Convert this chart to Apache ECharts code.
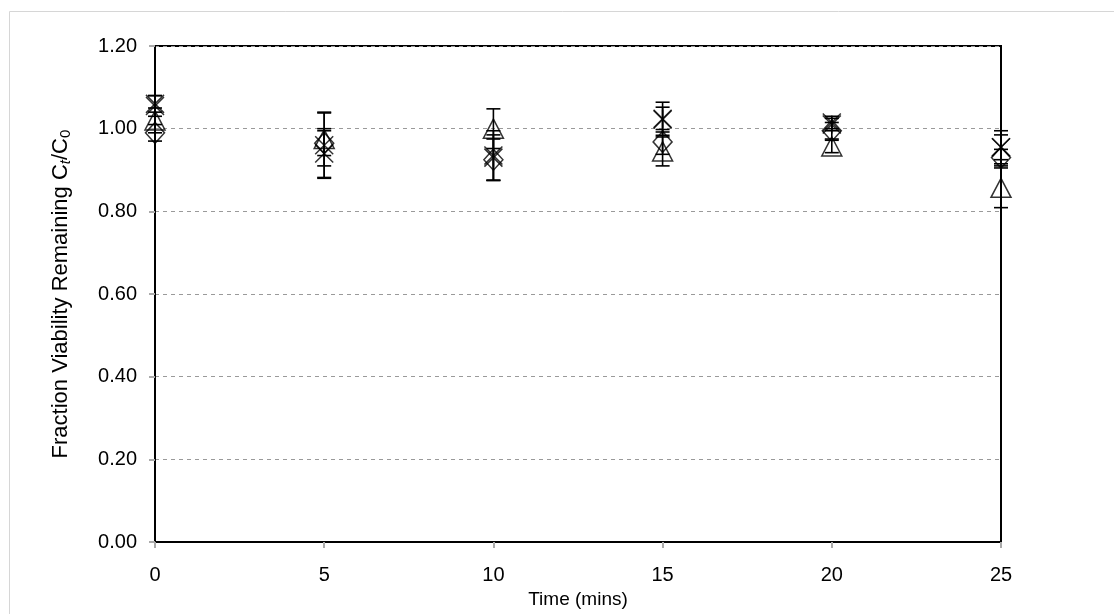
<!DOCTYPE html>
<html>
<head>
<meta charset="utf-8">
<script src="https://cdn.jsdelivr.net/npm/echarts@6/dist/echarts.min.js"></script>
<style>
  html, body { margin: 0; padding: 0; background: #fff; }
  #chart { width: 1114px; height: 614px; }
</style>
</head>
<body>
<div id="chart"></div>
<script>
// Sampling times (minutes)
const times = [0, 5, 10, 15, 20, 25];
const yTicks = [0, 0.2, 0.4, 0.6, 0.8, 1.0, 1.2];

// Fraction of viability remaining, Ct/C0, with +/- error
const diamondVals = [0.99, 0.965, 0.925, 0.968, 0.995, 0.93];
const diamondErr  = [0.02, 0.03, 0.05, 0.03, 0.02, 0.02];
const triangleVals = [1.02, 0.975, 1.0, 0.945, 0.957, 0.857];
const triangleErr  = [0.03, 0.065, 0.048, 0.035, 0.015, 0.048];
const crossVals = [1.055, 0.94, 0.935, 1.022, 1.015, 0.955];
const crossErr  = [0.025, 0.06, 0.06, 0.03, 0.015, 0.03];
const starVals = [1.06, 0.96, 0.93, 1.024, 1.01, 0.955];
const starErr  = [0.02, 0.078, 0.055, 0.04, 0.015, 0.04];

const INK = '#000';
const clear = 'rgba(0,0,0,0)';

function pts(vals) { return times.map((t, i) => [t, vals[i]]); }
function errData(vals, err) { return times.map((t, i) => [t, vals[i] - err[i], vals[i] + err[i]]); }

function errorSeries(vals, err) {
  return {
    type: 'custom',
    data: errData(vals, err),
    z: 1,
    silent: true,
    renderItem: function (params, api) {
      const x = api.value(0);
      const lo = api.coord([x, api.value(1)]);
      const hi = api.coord([x, api.value(2)]);
      const w = 7;
      const st = { stroke: INK, lineWidth: 1.6 };
      return {
        type: 'group',
        children: [
          { type: 'line', shape: { x1: lo[0], y1: lo[1], x2: hi[0], y2: hi[1] }, style: st },
          { type: 'line', shape: { x1: lo[0] - w, y1: lo[1], x2: lo[0] + w, y2: lo[1] }, style: st },
          { type: 'line', shape: { x1: hi[0] - w, y1: hi[1], x2: hi[0] + w, y2: hi[1] }, style: st }
        ]
      };
    }
  };
}

function markerSeries(name, vals, symbol, size) {
  return {
    name: name,
    type: 'scatter',
    data: pts(vals),
    symbol: symbol,
    symbolSize: size,
    z: 3,
    itemStyle: { color: clear, borderColor: INK, borderWidth: 1.5 }
  };
}

const chart = echarts.init(document.getElementById('chart'), null, { renderer: 'canvas' });

chart.setOption({
  animation: false,
  backgroundColor: '#fff',
  textStyle: { fontFamily: 'Liberation Sans, Arial, sans-serif', color: '#000' },
  graphic: [{
    type: 'rect',
    shape: { x: 9.5, y: 11.5, width: 1120, height: 640 },
    style: { fill: 'none', stroke: '#d6d6d6', lineWidth: 1 },
    z: -10
  }],
  grid: {
    left: 155, right: 113, top: 46, bottom: 71,
    show: true, borderColor: INK, borderWidth: 2, backgroundColor: clear
  },
  xAxis: {
    type: 'value',
    min: 0, max: 25, interval: 5,
    name: 'Time (mins)',
    nameLocation: 'middle',
    nameGap: 46,
    nameTextStyle: { fontSize: 19, color: '#000' },
    axisLine: { show: true, lineStyle: { color: INK, width: 2 } },
    axisTick: { show: true, length: 6, lineStyle: { color: '#aaa', width: 2 } },
    axisLabel: { fontSize: 20, color: '#000', margin: 23 },
    splitLine: { show: false }
  },
  yAxis: {
    type: 'value',
    min: 0, max: 1.2, interval: 0.2,
    name: 'Fraction Viability Remaining C{sub|t}/C{sub0|0}',
    nameLocation: 'middle',
    nameGap: 82,
    nameTextStyle: {
      fontSize: 22, color: '#000',
      rich: {
        sub: { fontSize: 15, fontStyle: 'italic', verticalAlign: 'bottom', padding: [9, 0, 0, 0] },
        sub0: { fontSize: 15, verticalAlign: 'bottom', padding: [9, 0, 0, 0] }
      }
    },
    axisLine: { show: true, lineStyle: { color: INK, width: 2 } },
    axisTick: { show: true, length: 6, lineStyle: { color: '#aaa', width: 2 } },
    axisLabel: {
      fontSize: 20, color: '#000', margin: 18,
      formatter: v => yTicks.some(t => Math.abs(t - v) < 1e-9) ? v.toFixed(2) : ''
    },
    splitLine: { show: true, lineStyle: { color: '#9a9a9a', type: [4, 4], width: 1 } }
  },
  series: [
    errorSeries(diamondVals, diamondErr),
    errorSeries(triangleVals, triangleErr),
    errorSeries(crossVals, crossErr),
    errorSeries(starVals, starErr),
    markerSeries('Diamond', diamondVals, 'diamond', [19, 21]),
    markerSeries('Triangle', triangleVals, 'path://M10,0L20,19L0,19Z', [20, 19]),
    markerSeries('Cross', crossVals, 'path://M0,0L18,18M18,0L0,18', [18, 18]),
    markerSeries('Star', starVals, 'path://M0,0L18,18M18,0L0,18M9,0L9,18', [18, 18])
  ]
});
</script>
</body>
</html>
